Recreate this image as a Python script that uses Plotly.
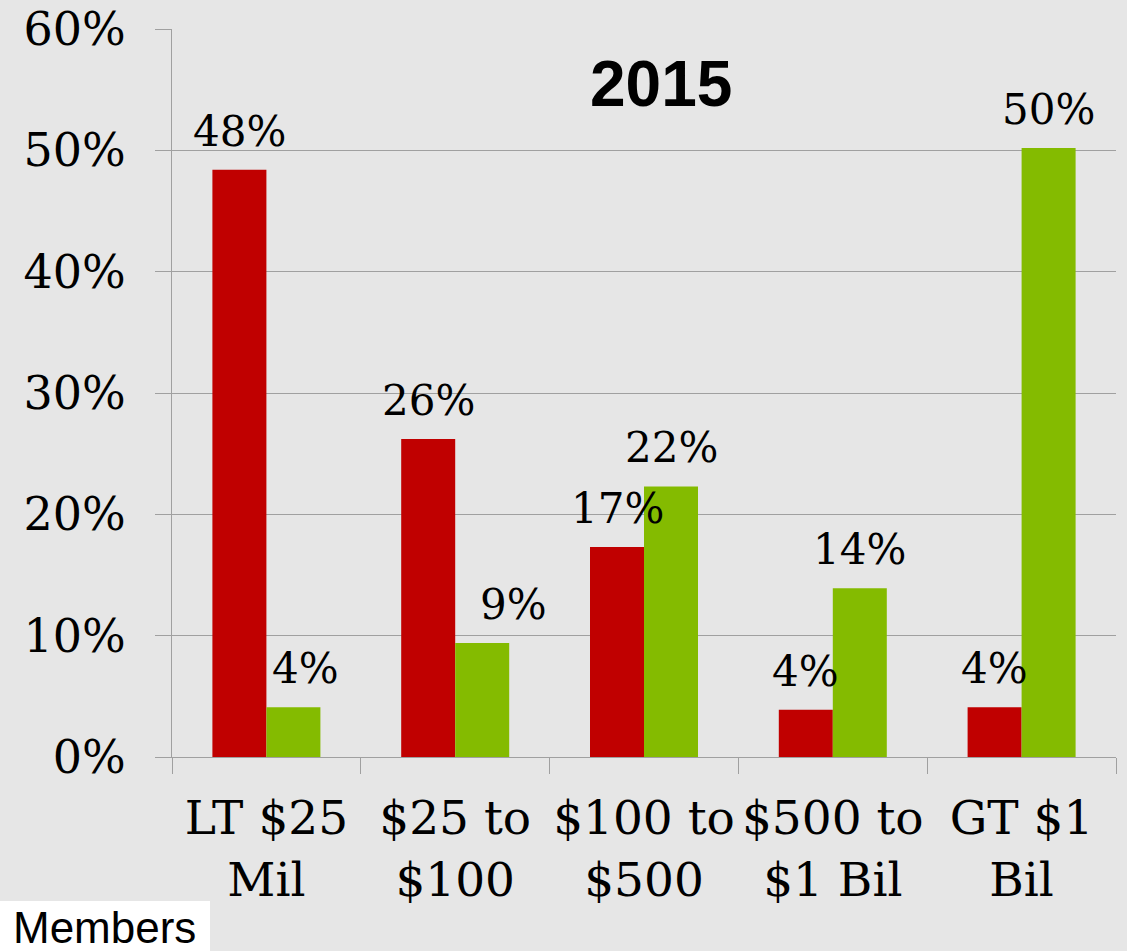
import plotly.graph_objects as go

categories = ["LT $25<br>Mil", "$25 to<br>$100", "$100 to<br>$500", "$500 to<br>$1 Bil", "GT $1<br>Bil"]
red_values = [48.4, 26.2, 17.3, 3.9, 4.1]
green_values = [4.1, 9.4, 22.3, 13.9, 50.2]
red_labels = ["48%", "26%", "17%", "4%", "4%"]
green_labels = ["4%", "9%", "22%", "14%", "50%"]
y_ticks = [0, 10, 20, 30, 40, 50, 60]
y_tick_labels = ["0%", "10%", "20%", "30%", "40%", "50%", "60%"]

# label nudges (pixels) as placed in the original
green_nudge = [12, 31, 0, 0, 0]
red_nudge = [0, 0, 0, 0, 0]

RED = "#C00000"
GREEN = "#84BB00"
BG = "#E6E6E6"
GRID = "#A0A0A0"
SERIF = "DejaVu Serif"

fig = go.Figure()
fig.add_trace(go.Bar(x=categories, y=red_values, marker=dict(color=RED, line=dict(width=0)), name="red"))
fig.add_trace(go.Bar(x=categories, y=green_values, marker=dict(color=GREEN, line=dict(width=0)), name="green"))

bar_px = 54
annotations = []
for i, c in enumerate(categories):
    annotations.append(dict(x=c, y=red_values[i], xref="x", yref="y", text=red_labels[i],
                            showarrow=False, yanchor="bottom", xanchor="center",
                            xshift=-bar_px / 2 + red_nudge[i], yshift=12,
                            font=dict(family=SERIF, size=42, color="black")))
    annotations.append(dict(x=c, y=green_values[i], xref="x", yref="y", text=green_labels[i],
                            showarrow=False, yanchor="bottom", xanchor="center",
                            xshift=bar_px / 2 + green_nudge[i], yshift=12,
                            font=dict(family=SERIF, size=42, color="black")))

annotations.append(dict(x=(661 - 172) / 944, y=(757 - 84) / 728, xref="paper", yref="paper",
                        text="<b>2015</b>", showarrow=False, xanchor="center", yanchor="middle",
                        font=dict(family="Liberation Sans", size=64, color="black")))
annotations.append(dict(x=(11 - 172) / 944, y=(757 - 901) / 728, xref="paper", yref="paper",
                        text="Members", showarrow=False, xanchor="left", yanchor="top",
                        font=dict(family="Liberation Sans", size=44, color="black")))

fig.update_layout(
    width=1127, height=951,
    margin=dict(l=172, r=11, t=29, b=194),
    paper_bgcolor=BG, plot_bgcolor=BG,
    showlegend=False,
    bargap=0.428, bargroupgap=0,
    barmode="group",
    annotations=annotations,
    shapes=[dict(type="rect", xref="paper", yref="paper",
                 x0=(0 - 172) / 944, x1=(210 - 172) / 944,
                 y0=(757 - 960) / 728, y1=(757 - 901) / 728,
                 fillcolor="white", line=dict(width=0), layer="below")],
)
fig.update_yaxes(range=[0, 60], tickvals=y_ticks, ticktext=y_tick_labels,
                 automargin=False,
                 showgrid=True, gridcolor=GRID, gridwidth=1,
                 showline=True, linecolor=GRID, linewidth=1,
                 ticks="outside", ticklen=16, tickcolor=GRID,
                 ticklabelstandoff=20,
                 zeroline=False,
                 tickfont=dict(family=SERIF, size=46, color="black"))
fig.update_xaxes(automargin=False, tickangle=0,
                 showgrid=False, showline=True, linecolor=GRID, linewidth=1,
                 ticks="outside", ticklen=16, tickcolor=GRID, tickson="boundaries",
                 ticklabelstandoff=20,
                 tickfont=dict(family=SERIF, size=47, color="black"))

fig.write_html("out.html", config={"displayModeBar": False},
               post_script="document.body.style.margin='0';document.body.style.overflow='hidden';")
